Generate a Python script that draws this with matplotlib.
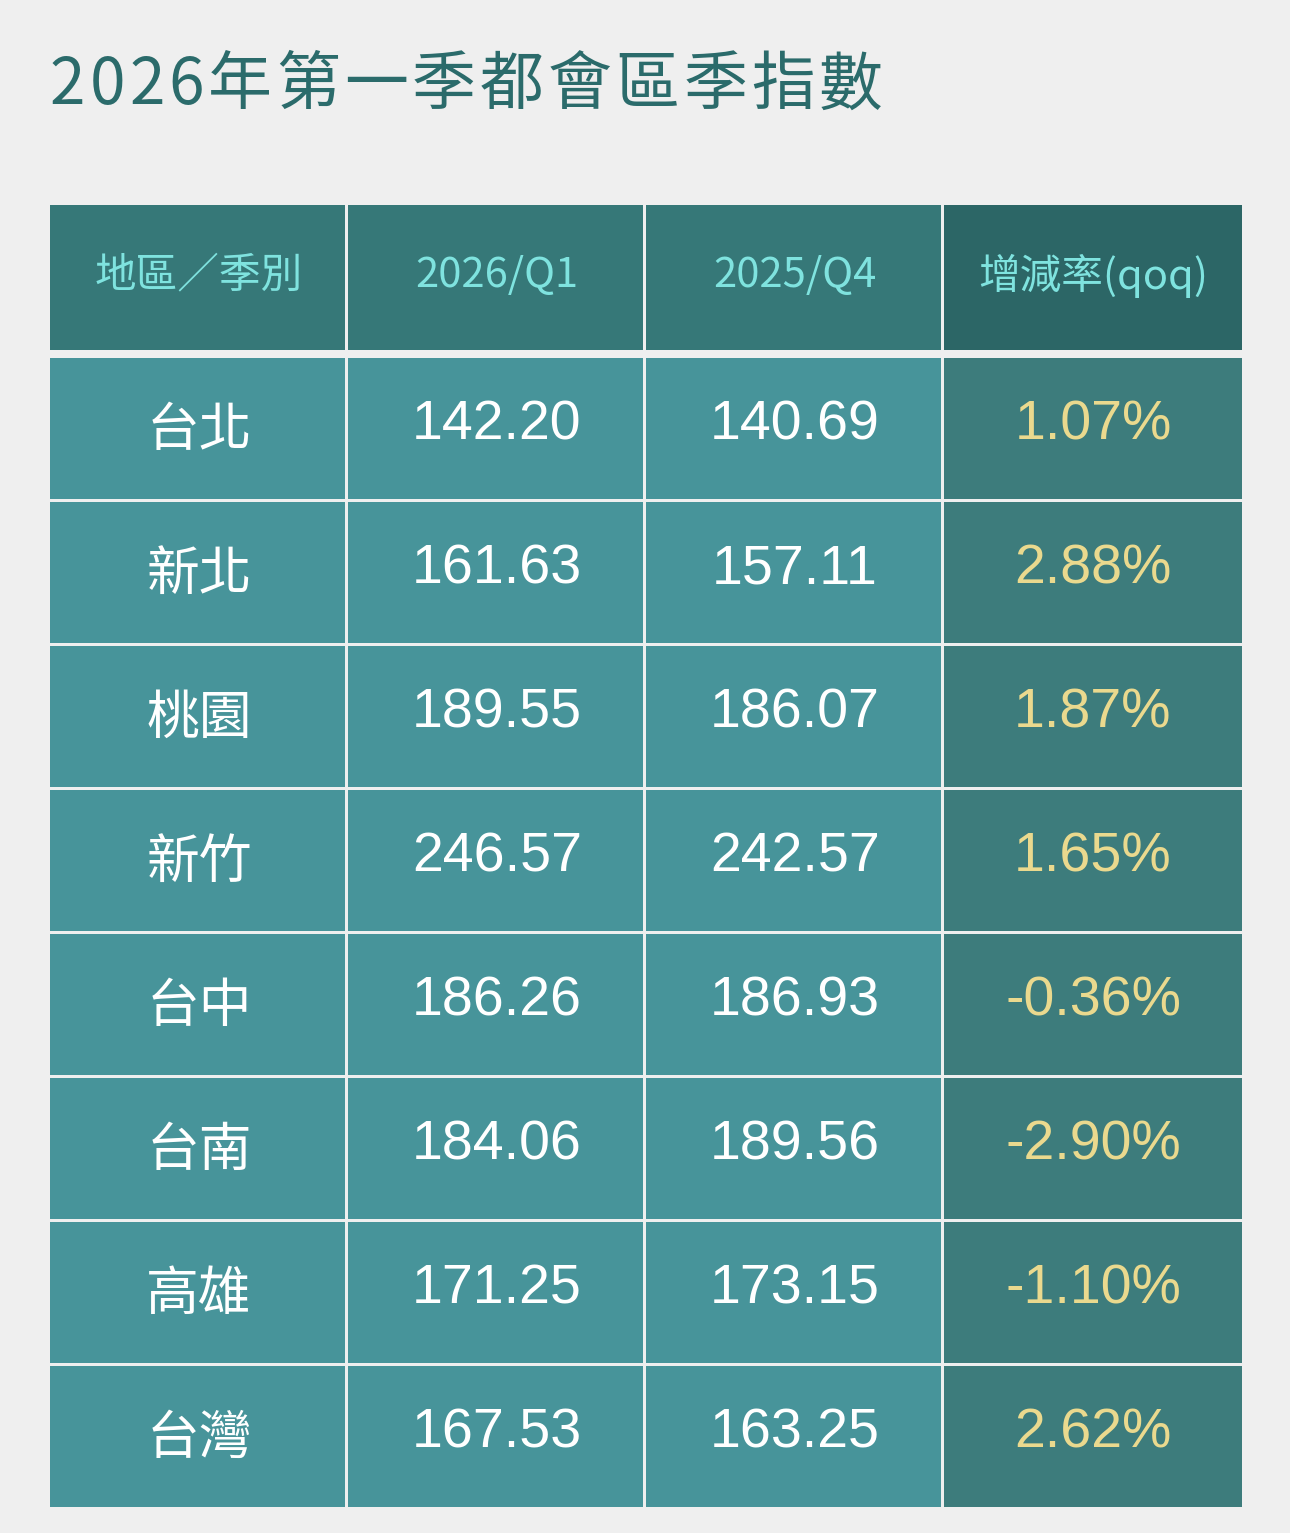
import matplotlib
matplotlib.use("Agg")
import matplotlib.pyplot as plt
from matplotlib.patches import Rectangle

title = "2026年第一季都會區季指數"
headers = ["地區／季別", "2026/Q1", "2025/Q4", "增減率(qoq)"]
regions = ["台北", "新北", "桃園", "新竹", "台中", "台南", "高雄", "台灣"]
q1 = [142.20, 161.63, 189.55, 246.57, 186.26, 184.06, 171.25, 167.53]
q4 = [140.69, 157.11, 186.07, 242.57, 186.93, 189.56, 173.15, 163.25]
qoq = [1.07, 2.88, 1.87, 1.65, -0.36, -2.90, -1.10, 2.62]

W, H = 1290, 1533
fig = plt.figure(figsize=(W/100, H/100), dpi=100, facecolor="#efefef")
ax = fig.add_axes([0, 0, 1, 1])
ax.set_xlim(0, W); ax.set_ylim(H, 0); ax.axis("off")

# title with slight letter spacing
x = 50
for ch in title:
    t = ax.text(x, 86, ch, fontsize=46, color="#2b6b6b", va="center", ha="left",
                family=["Noto Sans CJK TC"], fontweight="medium")
    fig.canvas.draw() if x == 50 else None
    bb = t.get_window_extent(renderer=fig.canvas.get_renderer())
    x += bb.width + 4

cols = [50, 348, 646, 944, 1242]
gap = 3
hy0, hy1 = 205, 350
for i, h in enumerate(headers):
    c = "#2c6666" if i == 3 else "#367878"
    ax.add_patch(Rectangle((cols[i], hy0), cols[i+1]-cols[i]-(gap if i < 3 else 0), hy1-hy0, color=c, lw=0))
    ax.text((cols[i]+cols[i+1])/2, (hy0+hy1)/2 - 2, h, fontsize=30, color="#7fe3df",
            ha="center", va="center", family=["Noto Sans CJK TC"])

top = 358
rh = 144
num_font = ["Liberation Sans", "Noto Sans CJK TC"]
for r in range(len(regions)):
    y0 = top + r*rh
    y1 = y0 + rh - gap
    vals = [regions[r], f"{q1[r]:.2f}", f"{q4[r]:.2f}", f"{qoq[r]:.2f}%"]
    for i, v in enumerate(vals):
        c = "#3d7c7c" if i == 3 else "#47949a"
        ax.add_patch(Rectangle((cols[i], y0), cols[i+1]-cols[i]-(gap if i < 3 else 0), y1-y0, color=c, lw=0))
        color = "#ead98e" if i == 3 else "white"
        fam = ["Noto Sans CJK TC"] if i == 0 else num_font
        fs = 38 if i == 0 else 40
        dy = 2 if i == 0 else -3
        ax.text((cols[i]+cols[i+1])/2, (y0+y1)/2 + dy, v, fontsize=fs, color=color,
                ha="center", va="center", family=fam)

fig.savefig("out.png", dpi=100, facecolor=fig.get_facecolor())
